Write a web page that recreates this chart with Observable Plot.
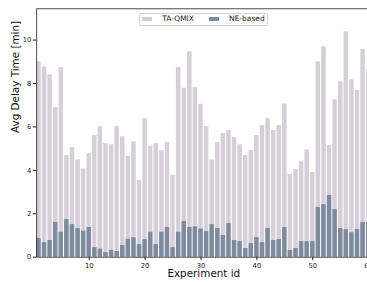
<!DOCTYPE html>
<html><head><meta charset="utf-8">
<script src="https://cdn.jsdelivr.net/npm/d3@7"></script>
<script src="https://cdn.jsdelivr.net/npm/@observablehq/plot@0.6"></script>
<style>
html,body{margin:0;padding:0;background:#fff;}
#wrap{position:relative;width:367px;height:282px;overflow:hidden;font-family:"DejaVu Sans",sans-serif;}
.legend{position:absolute;left:138.5px;top:13px;width:129.5px;height:12.5px;border:0.8px solid #d0d0d0;border-radius:2px;background:rgba(255,255,255,0.85);box-sizing:border-box;}
.sw{position:absolute;height:4px;width:10px;top:16.7px;}
.lt{position:absolute;font-size:7.5px;line-height:7.5px;top:15.4px;color:#222;white-space:nowrap;}
</style></head><body><div id="wrap"></div>
<script>
const ids = [1,2,3,4,5,6,7,8,9,10,11,12,13,14,15,16,17,18,19,20,21,22,23,24,25,26,27,28,29,30,
  31,32,33,34,35,36,37,38,39,40,41,42,43,44,45,46,47,48,49,50,51,52,53,54,55,56,57,58,59,60];
const taQmix = [9.00,8.77,8.40,6.89,8.73,4.68,5.05,4.48,4.06,4.77,5.60,6.01,5.23,5.18,6.01,5.55,4.65,5.32,3.53,6.38,
  5.11,5.23,4.91,5.28,3.77,8.74,7.78,9.46,7.81,7.04,6.01,4.48,5.28,5.69,5.83,5.51,5.18,4.68,4.91,5.60,
  6.06,6.38,5.83,6.06,7.06,3.82,4.03,4.40,4.95,3.90,9.00,9.69,5.14,7.25,8.08,10.38,8.17,7.68,9.56,8.63];
const neBased = [0.86,0.67,0.77,1.60,1.15,1.73,1.50,1.32,1.20,1.37,0.44,0.37,0.21,0.31,0.26,0.54,0.83,0.90,0.58,0.81,
  1.15,0.58,1.15,1.37,0.44,1.15,1.64,1.37,1.40,1.30,1.18,1.50,1.32,1.00,1.55,0.77,0.72,0.40,0.63,0.90,
  0.67,1.32,0.77,0.81,1.37,0.31,0.40,0.72,0.72,0.72,2.29,2.42,2.84,2.19,1.32,1.27,1.13,1.27,1.60,1.60];
const xTicks = [10,20,30,40,50,60];
const yTicks = [0,2,4,6,8,10];
const seriesNames = ["TA-QMIX","NE-based"];
const colors = ["#d6cfda","#7e8a9e"];

const data = ids.map((id,i)=>({id, ta: taQmix[i], ne: neBased[i]}));

const chart = Plot.plot({
  width: 371, height: 282,
  marginLeft: 36.2, marginRight: 0.6, marginTop: 8.3, marginBottom: 25.3,
  style: {fontFamily: "DejaVu Sans", background: "white", maxWidth: "none", color: "#222"},
  x: {domain: [0.6, 60.4]},
  y: {domain: [0, 11.44]},
  marks: [
    Plot.rect(data, {x1: d => d.id - 0.4, x2: d => d.id + 0.4, y1: d => 0, y2: "ta", fill: colors[0]}),
    Plot.rect(data, {x1: d => d.id - 0.4, x2: d => d.id + 0.4, y1: d => 0, y2: "ne", fill: colors[1]}),
    Plot.frame({stroke: "#222", strokeWidth: 0.8}),
    Plot.axisX({ticks: xTicks, tickSize: 3.5, tickPadding: 2, fontSize: 6.8, label: null}),
    Plot.axisY({ticks: yTicks, tickSize: 3.5, tickPadding: 1.8, fontSize: 6.8, label: null}),
    Plot.text(["Avg Delay Time [min]"], {text: d => d, frameAnchor: "left", dx: -21, rotate: -90, fontSize: 10.4, fill: "#111"}),
    Plot.text(["Experiment id"], {text: d => d, frameAnchor: "bottom", dy: 20, fontSize: 10.4, fill: "#111"})
  ]
});
const wrap = document.getElementById("wrap");
wrap.appendChild(chart);

const lg = document.createElement("div");
lg.className = "legend";
wrap.appendChild(lg);
const pos = [{sw: 141.7, tx: 162.3}, {sw: 209, tx: 229}];
seriesNames.forEach((n, i) => {
  const s = document.createElement("div");
  s.className = "sw"; s.style.left = pos[i].sw + "px"; s.style.background = colors[i];
  wrap.appendChild(s);
  const t = document.createElement("div");
  t.className = "lt"; t.style.left = pos[i].tx + "px"; t.textContent = n;
  wrap.appendChild(t);
});
</script></body></html>
